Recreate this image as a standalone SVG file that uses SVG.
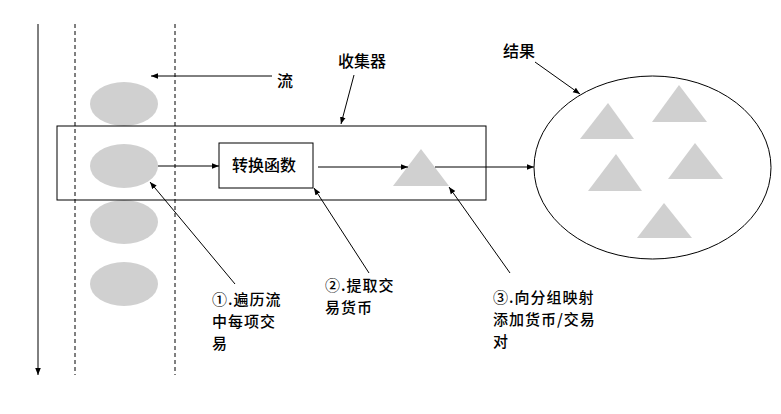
<svg xmlns="http://www.w3.org/2000/svg" width="781" height="414" viewBox="0 0 781 414">
<defs>
<marker id="ah" viewBox="0 0 10 10" refX="10" refY="5" markerWidth="7" markerHeight="7" markerUnits="userSpaceOnUse" orient="auto">
<path d="M0,1 L10,5 L0,9 z" fill="#000"/>
</marker>
</defs>
<style>
.t{font-family:"Noto Sans CJK SC","Liberation Sans",sans-serif;font-size:16px;fill:#000;font-weight:500}
.s{font-size:15px;letter-spacing:1px}
.ln{stroke:#000;stroke-width:1;fill:none}
.dash{stroke:#000;stroke-width:1;stroke-dasharray:4,3;fill:none}
.g{fill:#d0d0d0}
</style>
<rect width="781" height="414" fill="#fff"/>
<g id="timeline">
<line class="ln" x1="38" y1="24" x2="38" y2="375" marker-end="url(#ah)"/>
<line class="dash" x1="75" y1="24" x2="75" y2="375"/>
<line class="dash" x1="175" y1="24" x2="175" y2="375"/>
</g>
<g id="stream-items">
<ellipse class="g" cx="124" cy="104" rx="34" ry="22"/>
<ellipse class="g" cx="124" cy="166" rx="34" ry="22"/>
<ellipse class="g" cx="124" cy="222" rx="34" ry="22"/>
<ellipse class="g" cx="124" cy="284" rx="34" ry="22"/>
</g>
<g id="collector">
<rect class="ln" x="57" y="126" width="429" height="74"/>
</g>
<g id="transform">
<rect class="ln" x="219" y="143" width="94" height="45" fill="#fff"/>
<text class="t" x="264" y="171" text-anchor="middle">转换函数</text>
</g>
<g id="triangle">
<polygon class="g" points="421,149 393,186 449,186"/>
</g>
<g id="result">
<ellipse class="ln" cx="652.5" cy="167.5" rx="118.5" ry="91.5"/>
<polygon class="g" points="608,103 580,139 634,139"/>
<polygon class="g" points="679,85 652,122 707,122"/>
<polygon class="g" points="616,154 588,191 642,191"/>
<polygon class="g" points="695,143 668,179 723,179"/>
<polygon class="g" points="664,203 637,238 692,238"/>
</g>
<g id="labels">
<text class="t" x="277" y="87">流</text>
<text class="t" x="338" y="67">收集器</text>
<text class="t" x="503" y="57">结果</text>
<text class="t s" x="212" y="305">①.遍历流</text>
<text class="t s" x="212" y="327">中每项交</text>
<text class="t s" x="212" y="349">易</text>
<text class="t s" x="325" y="291">②.提取交</text>
<text class="t s" x="325" y="313">易货币</text>
<text class="t s" x="493" y="303">③.向分组映射</text>
<text class="t s" x="493" y="325">添加货币/交易</text>
<text class="t s" x="493" y="347">对</text>
</g>
<g id="connectors">
<line class="ln" x1="272" y1="76" x2="151" y2="76" marker-end="url(#ah)"/>
<line class="ln" x1="354" y1="75" x2="341" y2="124" marker-end="url(#ah)"/>
<line class="ln" x1="535" y1="62" x2="580" y2="94" marker-end="url(#ah)"/>
<line class="ln" x1="158" y1="166" x2="219" y2="166" marker-end="url(#ah)"/>
<line class="ln" x1="318" y1="167" x2="408" y2="167" marker-end="url(#ah)"/>
<line class="ln" x1="435" y1="167" x2="534" y2="167" marker-end="url(#ah)"/>
<line class="ln" x1="235" y1="284" x2="150" y2="182" marker-end="url(#ah)"/>
<line class="ln" x1="369" y1="273" x2="314" y2="188" marker-end="url(#ah)"/>
<line class="ln" x1="510" y1="273" x2="449" y2="187" marker-end="url(#ah)"/>
</g>
</svg>
